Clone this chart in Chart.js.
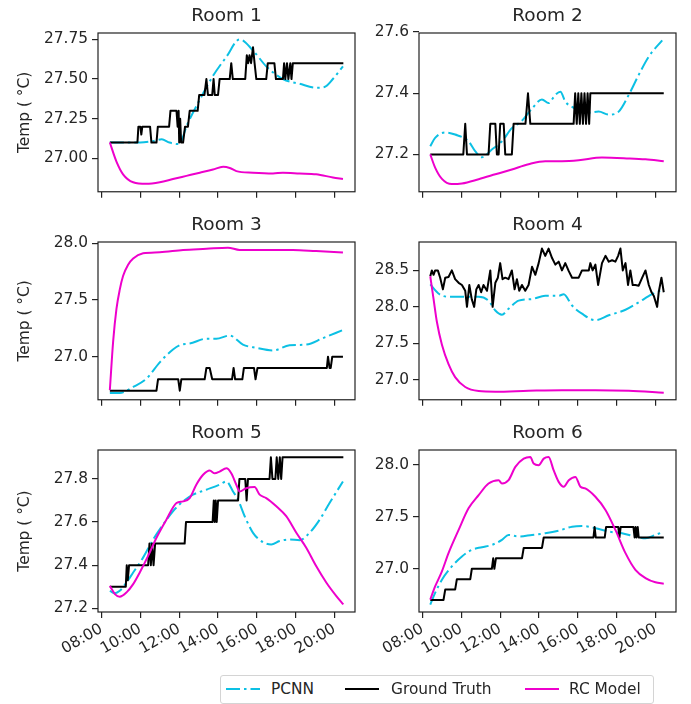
<!DOCTYPE html>
<html>
<head>
<meta charset="utf-8">
<script src="https://cdn.jsdelivr.net/npm/chart.js@4.4.1/dist/chart.umd.min.js"></script>
<style>
body { margin: 0; background: #fff; width: 691px; height: 704px; position: relative; overflow: hidden; font-family: "DejaVu Sans", sans-serif; }
canvas { position: absolute; }
#legend { position: absolute; left: 220px; top: 675px; width: 434px; height: 29px; border: 1px solid #d4d4d4; border-radius: 3px; box-sizing: border-box; font-size: 15.4px; color: #262626; }
#legend span { position: absolute; top: 0; line-height: 26px; white-space: nowrap; }
#legend svg { position: absolute; top: 0; }
</style>
</head>
<body>
<canvas id="room1"></canvas>
<canvas id="room2"></canvas>
<canvas id="room3"></canvas>
<canvas id="room4"></canvas>
<canvas id="room5"></canvas>
<canvas id="room6"></canvas>
<div id="legend">
  <svg style="left:5px" width="34" height="26"><line x1="0" y1="13" x2="34" y2="13" stroke="#0cc0e4" stroke-width="2" stroke-dasharray="14,4,2.5,4"/></svg>
  <span style="left:50px">PCNN</span>
  <svg style="left:124px" width="34" height="26"><line x1="0" y1="13" x2="34" y2="13" stroke="#000" stroke-width="2"/></svg>
  <span style="left:170px">Ground Truth</span>
  <svg style="left:304px" width="34" height="26"><line x1="0" y1="13" x2="34" y2="13" stroke="#ee00cc" stroke-width="2"/></svg>
  <span style="left:348px">RC Model</span>
</div>
<script>
// time axis (hours of the day)
var hourTicks = [8, 10, 12, 14, 16, 18, 20];
var hourLabels = ['08:00', '10:00', '12:00', '14:00', '16:00', '18:00', '20:00'];
var roomTitles = ['Room 1', 'Room 2', 'Room 3', 'Room 4', 'Room 5', 'Room 6'];

// y ticks per room
var room1Ticks = [27.00, 27.25, 27.50, 27.75];
var room2Ticks = [27.2, 27.4, 27.6];
var room3Ticks = [27.0, 27.5, 28.0];
var room4Ticks = [27.0, 27.5, 28.0, 28.5];
var room5Ticks = [27.2, 27.4, 27.6, 27.8];
var room6Ticks = [27.0, 27.5, 28.0];

// Room 1
var room1Pcnn = [[8.43,27.10],[9.0,27.10],[10.0,27.10],[10.7,27.11],[11.1,27.12],[11.5,27.10],[12.0,27.09],[12.4,27.21],[13.06,27.37],[13.74,27.52],[14.43,27.64],[15.11,27.75],[15.8,27.68],[16.48,27.58],[17.34,27.50],[18.2,27.47],[19.05,27.445],[19.48,27.45],[19.91,27.50],[20.43,27.58]];
var room1Truth = [[8.43,27.1],[9.85,27.1],[9.9,27.2],[10.0,27.2],[10.05,27.15],[10.1,27.2],[10.5,27.2],[10.57,27.1],[10.83,27.1],[10.9,27.2],[11.48,27.2],[11.55,27.3],[11.86,27.3],[11.92,27.2],[11.97,27.3],[12.0,27.1],[12.05,27.25],[12.1,27.1],[12.2,27.1],[12.3,27.2],[12.45,27.2],[12.54,27.3],[12.95,27.3],[13.03,27.4],[13.3,27.4],[13.4,27.5],[13.48,27.4],[13.7,27.4],[13.77,27.5],[13.83,27.4],[14.0,27.4],[14.08,27.5],[14.6,27.5],[14.68,27.6],[14.76,27.5],[15.4,27.5],[15.48,27.65],[15.55,27.6],[15.62,27.65],[15.7,27.6],[15.8,27.7],[15.88,27.6],[15.97,27.5],[16.48,27.5],[16.56,27.6],[16.9,27.6],[16.98,27.5],[17.34,27.5],[17.4,27.6],[17.46,27.5],[17.55,27.6],[17.62,27.5],[17.72,27.6],[17.78,27.5],[17.85,27.6],[20.45,27.6]];
var room1Rc = [[8.43,27.10],[8.77,26.98],[9.11,26.90],[9.63,26.85],[10.31,26.84],[11.0,26.85],[11.68,26.87],[12.37,26.89],[13.06,26.91],[13.74,26.93],[14.26,26.947],[14.6,26.94],[14.94,26.92],[15.8,26.91],[16.83,26.905],[17.34,26.91],[18.2,26.905],[19.05,26.90],[19.91,26.88],[20.43,26.87]];

// Room 2
var room2Pcnn = [[8.40,27.227],[8.65,27.254],[9.17,27.272],[9.68,27.265],[10.37,27.243],[10.71,27.211],[11.06,27.191],[11.57,27.216],[12.09,27.243],[12.6,27.286],[13.12,27.31],[13.64,27.35],[14.15,27.38],[14.49,27.368],[14.84,27.395],[15.1,27.405],[15.35,27.373],[15.87,27.35],[16.38,27.335],[17.07,27.34],[17.59,27.33],[18.1,27.34],[18.62,27.395],[19.13,27.46],[19.65,27.52],[20.34,27.573]];
var room2Truth = [[8.4,27.2],[10.1,27.2],[10.2,27.3],[10.29,27.2],[11.4,27.2],[11.49,27.3],[11.75,27.3],[11.83,27.2],[11.92,27.2],[12.0,27.3],[12.18,27.3],[12.26,27.2],[12.6,27.2],[12.69,27.3],[13.3,27.3],[13.43,27.4],[13.55,27.3],[15.78,27.3],[15.86,27.4],[15.94,27.3],[16.02,27.4],[16.1,27.3],[16.18,27.4],[16.26,27.3],[16.34,27.4],[16.42,27.3],[16.5,27.4],[16.58,27.3],[16.64,27.4],[20.42,27.4]];
var room2Rc = [[8.40,27.20],[8.65,27.157],[9.0,27.12],[9.51,27.103],[10.03,27.105],[10.89,27.119],[11.75,27.135],[12.6,27.151],[13.46,27.168],[14.32,27.178],[15.18,27.178],[16.04,27.181],[17.24,27.19],[18.62,27.187],[19.48,27.184],[20.42,27.178]];

// Room 3
var room3Pcnn = [[8.43,26.68],[8.94,26.68],[9.63,26.733],[10.31,26.805],[11.0,26.95],[11.68,27.063],[12.11,27.106],[12.54,27.115],[13.4,27.158],[13.91,27.158],[14.6,27.186],[15.28,27.106],[15.97,27.077],[16.83,27.054],[17.68,27.10],[18.54,27.106],[19.4,27.163],[20.43,27.235]];
var room3Truth = [[8.43,26.7],[10.83,26.7],[10.91,26.8],[11.95,26.8],[12.03,26.7],[12.11,26.8],[13.31,26.8],[13.4,26.9],[13.57,26.9],[13.7,26.8],[14.72,26.8],[14.8,26.9],[14.88,26.8],[15.25,26.8],[15.33,26.9],[15.85,26.9],[15.93,26.8],[16.03,26.9],[19.6,26.9],[19.66,27.0],[19.74,26.9],[19.8,26.9],[19.88,27.0],[20.43,27.0]];
var room3Rc = [[8.43,26.705],[8.6,27.135],[8.77,27.42],[8.94,27.59],[9.11,27.71],[9.37,27.81],[9.63,27.865],[10.14,27.91],[11.0,27.92],[12.2,27.94],[13.4,27.95],[14.51,27.96],[15.11,27.94],[16.48,27.94],[17.85,27.94],[19.05,27.93],[20.43,27.917]];

// Room 4
var room4Pcnn = [[8.40,28.308],[8.82,28.183],[9.34,28.138],[10.03,28.138],[10.89,28.138],[11.4,28.085],[11.75,27.95],[12.09,27.893],[12.43,27.973],[12.95,28.085],[13.64,28.107],[14.32,28.152],[15.01,28.152],[15.27,28.174],[15.7,28.018],[16.21,27.906],[16.9,27.817],[17.59,27.884],[18.45,27.96],[19.13,28.063],[19.82,28.174],[20.42,28.24]];
var room4Truth = [[8.4,28.42],[8.48,28.5],[8.57,28.44],[8.65,28.5],[8.79,28.5],[8.91,28.4],[9.05,28.24],[9.17,28.4],[9.34,28.41],[9.51,28.5],[9.68,28.38],[9.86,28.33],[10.03,28.3],[10.2,28.22],[10.29,28.0],[10.41,28.3],[10.54,28.1],[10.66,28.0],[10.77,28.24],[10.89,28.3],[11.02,28.2],[11.14,28.3],[11.32,28.22],[11.49,28.5],[11.61,28.0],[11.75,28.33],[11.88,28.4],[12.0,28.6],[12.12,28.38],[12.26,28.4],[12.43,28.38],[12.6,28.5],[12.74,28.24],[12.86,28.38],[12.98,28.22],[13.12,28.3],[13.29,28.22],[13.46,28.3],[13.64,28.55],[13.81,28.44],[13.98,28.6],[14.15,28.8],[14.32,28.7],[14.49,28.8],[14.67,28.67],[14.84,28.58],[15.01,28.62],[15.18,28.5],[15.35,28.6],[15.53,28.49],[15.7,28.4],[16.04,28.4],[16.21,28.5],[16.56,28.5],[16.64,28.6],[16.76,28.5],[16.9,28.58],[17.04,28.3],[17.24,28.6],[17.42,28.7],[17.59,28.62],[17.76,28.64],[17.93,28.62],[18.07,28.7],[18.19,28.8],[18.31,28.5],[18.45,28.6],[18.58,28.3],[18.7,28.5],[18.82,28.3],[18.96,28.3],[19.13,28.29],[19.31,28.4],[19.48,28.5],[19.65,28.3],[19.79,28.2],[19.91,28.15],[20.08,28.0],[20.16,28.2],[20.3,28.4],[20.42,28.2]];
var room4Rc = [[8.40,28.42],[8.57,28.107],[8.74,27.795],[9.0,27.48],[9.34,27.214],[9.68,27.036],[10.2,26.90],[10.89,26.844],[11.75,26.835],[13.46,26.848],[15.18,26.857],[16.9,26.857],[18.62,26.848],[20.42,26.82]];

// Room 5
var room5Pcnn = [[8.43,27.281],[8.69,27.27],[8.94,27.281],[9.29,27.32],[9.63,27.366],[10.14,27.435],[10.66,27.519],[11.17,27.588],[11.68,27.65],[12.2,27.696],[12.71,27.727],[13.4,27.75],[14.08,27.773],[14.43,27.788],[14.77,27.742],[15.03,27.703],[15.37,27.627],[15.8,27.55],[16.31,27.507],[16.74,27.496],[17.17,27.512],[17.68,27.519],[18.2,27.516],[18.71,27.55],[19.23,27.611],[19.74,27.688],[20.43,27.788]];
var room5Truth = [[8.43,27.3],[9.25,27.3],[9.3,27.4],[9.35,27.33],[9.42,27.4],[10.4,27.4],[10.47,27.5],[10.54,27.4],[10.6,27.5],[10.68,27.4],[10.76,27.5],[12.28,27.5],[12.35,27.6],[13.72,27.6],[13.78,27.7],[13.83,27.6],[13.88,27.7],[13.93,27.6],[14.0,27.7],[15.03,27.7],[15.1,27.8],[15.4,27.8],[15.47,27.7],[15.54,27.8],[16.65,27.8],[16.72,27.9],[16.8,27.8],[16.95,27.8],[17.02,27.9],[17.1,27.8],[17.18,27.9],[17.25,27.8],[17.32,27.9],[20.45,27.9]];
var room5Rc = [[8.43,27.304],[8.69,27.266],[8.94,27.254],[9.29,27.274],[9.63,27.312],[9.97,27.366],[10.4,27.443],[10.83,27.527],[11.34,27.611],[11.86,27.688],[12.2,27.696],[12.54,27.711],[12.88,27.773],[13.23,27.819],[13.57,27.839],[13.83,27.826],[14.08,27.834],[14.43,27.849],[14.68,27.826],[14.94,27.773],[15.11,27.742],[15.45,27.757],[15.88,27.762],[16.14,27.727],[16.48,27.711],[17.0,27.673],[17.51,27.627],[18.03,27.55],[18.54,27.481],[19.05,27.396],[19.57,27.32],[20.08,27.258],[20.45,27.218]];

// Room 6
var room6Pcnn = [[8.40,26.656],[8.65,26.768],[9.0,26.895],[9.51,27.022],[10.03,27.118],[10.54,27.182],[11.06,27.207],[11.57,27.229],[12.09,27.277],[12.43,27.325],[12.95,27.309],[13.64,27.325],[14.32,27.341],[15.01,27.366],[15.7,27.404],[16.21,27.411],[16.9,27.389],[17.59,27.357],[18.27,27.341],[18.96,27.309],[19.48,27.293],[19.99,27.325],[20.42,27.357]];
var room6Truth = [[8.4,26.7],[9.08,26.7],[9.17,26.8],[9.68,26.8],[9.77,26.9],[10.46,26.9],[10.54,27.0],[11.57,27.0],[11.64,27.1],[11.7,27.0],[11.78,27.1],[13.12,27.1],[13.21,27.2],[14.15,27.2],[14.24,27.3],[16.8,27.3],[16.86,27.4],[16.92,27.3],[17.38,27.3],[17.45,27.4],[18.08,27.4],[18.14,27.3],[18.2,27.4],[18.86,27.4],[18.92,27.3],[18.97,27.4],[19.02,27.3],[19.08,27.4],[19.13,27.3],[20.42,27.3]];
var room6Rc = [[8.40,26.704],[8.65,26.83],[9.0,26.975],[9.34,27.15],[9.86,27.373],[10.37,27.58],[10.89,27.707],[11.4,27.818],[11.92,27.85],[12.09,27.818],[12.43,27.85],[12.78,27.978],[13.21,28.057],[13.55,28.073],[13.72,28.01],[13.98,27.994],[14.24,28.057],[14.49,28.073],[14.75,27.946],[15.01,27.834],[15.27,27.787],[15.53,27.85],[15.87,27.882],[16.13,27.787],[16.38,27.771],[16.9,27.691],[17.42,27.564],[17.93,27.373],[18.45,27.15],[18.96,26.99],[19.48,26.911],[19.99,26.87],[20.42,26.857]];

var fontFamily = '"DejaVu Sans", sans-serif';
var textColor = '#262626';
var frameColor = '#222222';

// draws the four spines round the plot area
var framePlugin = {
    id: 'frame',
    afterDatasetsDraw: function(chart) {
        var a = chart.chartArea;
        var ctx = chart.ctx;
        ctx.save();
        ctx.strokeStyle = frameColor;
        ctx.lineWidth = 1.2;
        ctx.strokeRect(a.left, a.top, a.right - a.left, a.bottom - a.top);
        ctx.restore();
    }
};

function drawRoom(id, title, pcnn, truth, rc, yMin, yMax, yTicks, digits, col, row) {
    var canvas = document.getElementById(id);
    var canvasLeft = [0, 345][col];
    var canvasWidth = [362, 340][col];
    var yAxisWidth = [98, 74][col];
    var padRight = [7, 9][col];
    var canvasTop = [0, 209, 417][row];
    var xAxisHeight = [10, 10, 55][row];
    var plotBottom = [195, 403, 612][row];

    canvas.width = canvasWidth;
    canvas.height = plotBottom - canvasTop + xAxisHeight;
    canvas.style.left = canvasLeft + 'px';
    canvas.style.top = canvasTop + 'px';

    var tickFont = {family: fontFamily, size: 15.4};
    var gridStyle = {drawOnChartArea: false, drawTicks: true, tickLength: 6, color: frameColor, lineWidth: 1.2};

    return new Chart(canvas, {
        type: 'line',
        data: {
            datasets: [
                {label: 'PCNN', data: pcnn, borderColor: '#0cc0e4', borderWidth: 2, borderDash: [14, 4, 2.5, 4], cubicInterpolationMode: 'monotone', pointRadius: 0, order: 3},
                {label: 'Ground Truth', data: truth, borderColor: '#000000', borderWidth: 2, borderJoinStyle: 'round', pointRadius: 0, order: 2},
                {label: 'RC Model', data: rc, borderColor: '#ee00cc', borderWidth: 2, borderJoinStyle: 'round', cubicInterpolationMode: 'monotone', pointRadius: 0, order: 1}
            ]
        },
        options: {
            responsive: false,
            animation: false,
            layout: {padding: {left: 0, right: padRight, top: 0, bottom: 0}},
            plugins: {
                legend: {display: false},
                tooltip: {enabled: false},
                title: {
                    display: true,
                    text: title,
                    fullSize: false,
                    color: textColor,
                    font: {family: fontFamily, size: 18.5, weight: 'normal'},
                    padding: {top: 5, bottom: 5.8}
                }
            },
            scales: {
                x: {
                    type: 'linear',
                    min: 7.82,
                    max: 21.05,
                    afterBuildTicks: function(scale) {
                        scale.ticks = hourTicks.map(function(v) { return {value: v}; });
                    },
                    afterFit: function(scale) { scale.height = xAxisHeight; },
                    grid: gridStyle,
                    border: {display: false},
                    ticks: {
                        display: row === 2,
                        autoSkip: false,
                        minRotation: 30,
                        maxRotation: 30,
                        padding: 2,
                        color: textColor,
                        font: tickFont,
                        callback: function(v) { return hourLabels[hourTicks.indexOf(v)]; }
                    }
                },
                y: {
                    min: yMin,
                    max: yMax,
                    afterBuildTicks: function(scale) {
                        scale.ticks = yTicks.map(function(v) { return {value: v}; });
                    },
                    afterFit: function(scale) { scale.width = yAxisWidth; },
                    grid: gridStyle,
                    border: {display: false},
                    ticks: {
                        autoSkip: false,
                        padding: 4,
                        color: textColor,
                        font: tickFont,
                        callback: function(v) { return v.toFixed(digits); }
                    },
                    title: {
                        display: col === 0,
                        text: 'Temp ( °C)',
                        color: textColor,
                        font: {family: fontFamily, size: 15.4},
                        padding: {top: 16, bottom: 0}
                    }
                }
            }
        },
        plugins: [framePlugin]
    });
}

drawRoom('room1', roomTitles[0], room1Pcnn, room1Truth, room1Rc, 26.79, 27.79, room1Ticks, 2, 0, 0);
drawRoom('room2', roomTitles[1], room2Pcnn, room2Truth, room2Rc, 27.078, 27.597, room2Ticks, 1, 1, 0);
drawRoom('room3', roomTitles[2], room3Pcnn, room3Truth, room3Rc, 26.62, 28.01, room3Ticks, 1, 0, 1);
drawRoom('room4', roomTitles[3], room4Pcnn, room4Truth, room4Rc, 26.725, 28.89, room4Ticks, 1, 1, 1);
drawRoom('room5', roomTitles[4], room5Pcnn, room5Truth, room5Rc, 27.183, 27.934, room5Ticks, 1, 0, 2);
drawRoom('room6', roomTitles[5], room6Pcnn, room6Truth, room6Rc, 26.585, 28.14, room6Ticks, 1, 1, 2);
</script>
</body>
</html>
